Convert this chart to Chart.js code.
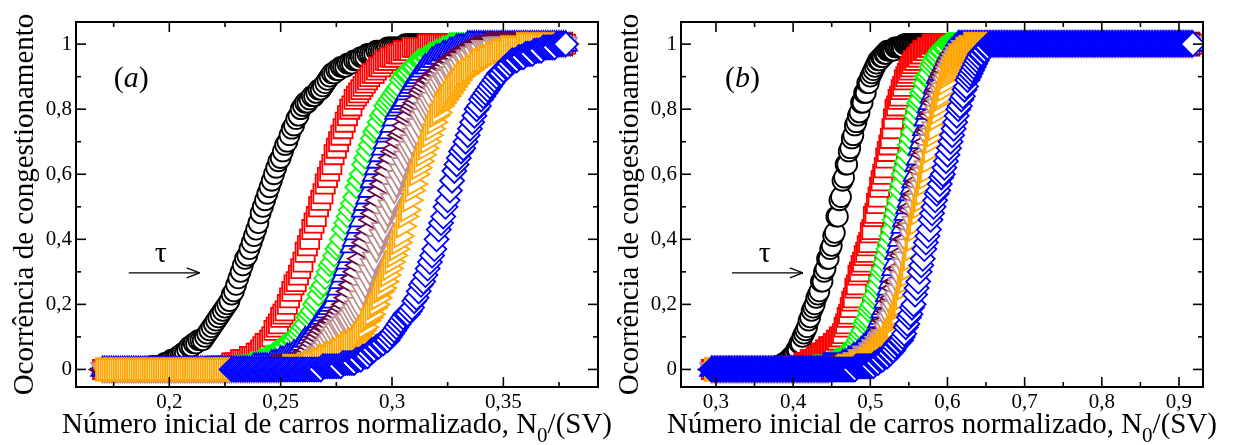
<!DOCTYPE html>
<html>
<head>
<meta charset="utf-8">
<script src="https://cdn.jsdelivr.net/npm/chart.js@4.4.1/dist/chart.umd.min.js"></script>
<style>
  html, body { margin: 0; padding: 0; background: #fff; }
  #wrap { position: relative; width: 1234px; height: 445px; overflow: hidden; }
  #graficoA { position: absolute; left: 0; top: 0; }
  #graficoB { position: absolute; left: 605px; top: 0; }
</style>
</head>
<body>
<div id="wrap">
  <canvas id="graficoA" width="617" height="445"></canvas>
  <canvas id="graficoB" width="629" height="445"></canvas>
</div>
<script>
// =====================
// Dados (a)
// =====================
const xA = [
  0.170,0.171,0.172,0.173,0.174,0.175,0.176,0.177,0.178,0.179,
  0.180,0.181,0.182,0.183,0.184,0.185,0.186,0.187,0.188,0.189,
  0.190,0.191,0.192,0.193,0.194,0.195,0.196,0.197,0.198,0.199,
  0.200,0.201,0.202,0.203,0.204,0.205,0.206,0.207,0.208,0.209,
  0.210,0.211,0.212,0.213,0.214,0.215,0.216,0.217,0.218,0.219,
  0.220,0.221,0.222,0.223,0.224,0.225,0.226,0.227,0.228,0.229,
  0.230,0.231,0.232,0.233,0.234,0.235,0.236,0.237,0.238,0.239,
  0.240,0.241,0.242,0.243,0.244,0.245,0.246,0.247,0.248,0.249,
  0.250,0.251,0.252,0.253,0.254,0.255,0.256,0.257,0.258,0.259,
  0.260,0.261,0.262,0.263,0.264,0.265,0.266,0.267,0.268,0.269,
  0.270,0.271,0.272,0.273,0.274,0.275,0.276,0.277,0.278,0.279,
  0.280,0.281,0.282,0.283,0.284,0.285,0.286,0.287,0.288,0.289,
  0.290,0.291,0.292,0.293,0.294,0.295,0.296,0.297,0.298,0.299,
  0.300,0.301,0.302,0.303,0.304,0.305,0.306,0.307,0.308,0.309,
  0.310,0.311,0.312,0.313,0.314,0.315,0.316,0.317,0.318,0.319,
  0.320,0.321,0.322,0.323,0.324,0.325,0.326,0.327,0.328,0.329,
  0.330,0.331,0.332,0.333,0.334,0.335,0.336,0.337,0.338,0.339,
  0.340,0.341,0.342,0.343,0.344,0.345,0.346,0.347,0.348,0.349,
  0.350,0.351,0.352,0.353,0.354,0.355,0.356,0.357,0.358,0.359,
  0.360,0.361,0.362,0.363,0.364,0.365,0.366,0.367,0.368,0.369,
  0.370,0.371,0.372,0.373,0.374,0.375,0.376,0.377,0.378
];

// círculos pretos
const pretoA = [
  0,0,0,0,0,0,0,0,0,0,
  0,0,0,0,0,0,0,0,0,0,
  0,0,.01,.01,.01,.01,.01,.01,.02,.02,
  .02,.03,.03,.03,.04,.04,.05,.05,.06,.07,
  .07,.08,.08,.09,.09,.09,.10,.11,.12,.13,
  .14,.15,.16,.17,.18,.19,.20,.21,.23,.24,
  .26,.28,.30,.32,.34,.35,.37,.39,.41,.43,
  .45,.48,.50,.52,.54,.56,.58,.60,.62,.64,
  .65,.67,.69,.70,.72,.74,.75,.77,.78,.80,
  .81,.82,.82,.83,.84,.84,.85,.86,.86,.87,
  .88,.89,.90,.91,.91,.92,.92,.93,.93,.93,
  .94,.94,.94,.95,.95,.95,.96,.96,.96,.97,
  .97,.97,.97,.98,.98,.98,.98,.98,.99,.99,
  .99,.99,.99,.99,.99,.99,1,1,1,1,
  1,1,1,1,1,1,1,1,1,1,
  1,1,1,1,1,1,1,1,1,1,
  1,1,1,1,1,1,1,1,1,1,
  1,1,1,1,1,1,1,1,1,1,
  1,1,1,1,1,1,1,1,1,1,
  1,1,1,1,1,1,1,1,1,1,
  1,1,1,1,1,1,1,1,1
];
// quadrados vermelhos
const vermelhoA = [
  0,0,0,0,0,0,0,0,0,0,
  0,0,0,0,0,0,0,0,0,0,
  0,0,0,0,0,0,0,0,0,0,
  0,0,0,0,0,0,0,0,0,0,
  0,0,0,0,0,0,0,0,0,0,
  0,.01,.01,.01,.01,.01,.01,.01,.02,.02,
  .02,.02,.03,.03,.03,.03,.04,.04,.04,.05,
  .05,.06,.07,.08,.08,.09,.10,.12,.13,.14,
  .16,.17,.18,.20,.22,.24,.26,.27,.29,.31,
  .33,.36,.38,.40,.43,.45,.47,.50,.52,.54,
  .57,.59,.61,.63,.66,.68,.70,.72,.74,.76,
  .78,.80,.81,.83,.84,.85,.86,.87,.88,.89,
  .90,.91,.91,.92,.93,.93,.94,.95,.95,.96,
  .96,.96,.97,.97,.97,.98,.98,.98,.98,.99,
  .99,.99,.99,.99,.99,.99,1,1,1,1,
  1,1,1,1,1,1,1,1,1,1,
  1,1,1,1,1,1,1,1,1,1,
  1,1,1,1,1,1,1,1,1,1,
  1,1,1,1,1,1,1,1,1,1,
  1,1,1,1,1,1,1,1,1,1,
  1,1,1,1,1,1,1,1,1
];
// losangos verdes
const verdeA = [
  0,0,0,0,0,0,0,0,0,0,
  0,0,0,0,0,0,0,0,0,0,
  0,0,0,0,0,0,0,0,0,0,
  0,0,0,0,0,0,0,0,0,0,
  0,0,0,0,0,0,0,0,0,0,
  0,0,0,0,0,0,0,0,0,0,
  .01,.01,.01,.01,.01,.01,.01,.02,.02,.02,
  .02,.03,.03,.03,.04,.04,.04,.05,.05,.06,
  .06,.07,.07,.08,.08,.09,.09,.10,.11,.12,
  .13,.14,.16,.17,.18,.20,.21,.23,.25,.26,
  .28,.30,.32,.33,.35,.37,.38,.40,.43,.45,
  .47,.49,.51,.53,.56,.58,.60,.63,.65,.67,
  .69,.71,.73,.74,.76,.78,.79,.81,.82,.83,
  .84,.85,.86,.87,.89,.90,.91,.91,.92,.93,
  .93,.94,.95,.95,.95,.96,.96,.97,.97,.97,
  .98,.98,.98,.99,.99,.99,1,1,1,1,
  1,1,1,1,1,1,1,1,1,1,
  1,1,1,1,1,1,1,1,1,1,
  1,1,1,1,1,1,1,1,1,1,
  1,1,1,1,1,1,1,1,1,1,
  1,1,1,1,1,1,1,1,1
];
// triângulos azuis (para cima)
const azulA = [
  0,0,0,0,0,0,0,0,0,0,
  0,0,0,0,0,0,0,0,0,0,
  0,0,0,0,0,0,0,0,0,0,
  0,0,0,0,0,0,0,0,0,0,
  0,0,0,0,0,0,0,0,0,0,
  0,0,0,0,0,0,0,0,0,0,
  0,0,0,0,0,0,0,0,.01,.01,
  .01,.01,.01,.01,.01,.01,.02,.02,.02,.02,
  .03,.03,.03,.04,.04,.04,.05,.05,.06,.07,
  .08,.09,.09,.10,.11,.12,.13,.14,.15,.16,
  .17,.18,.19,.20,.21,.23,.25,.27,.29,.31,
  .33,.35,.38,.40,.42,.44,.46,.49,.51,.53,
  .55,.58,.60,.62,.64,.66,.68,.70,.72,.73,
  .75,.77,.79,.80,.81,.82,.83,.85,.86,.87,
  .88,.89,.90,.91,.92,.93,.93,.94,.95,.95,
  .96,.96,.96,.97,.97,.97,.98,.98,.98,.99,
  .99,.99,.99,.99,1,1,1,1,1,1,
  1,1,1,1,1,1,1,1,1,1,
  1,1,1,1,1,1,1,1,1,1,
  1,1,1,1,1,1,1,1,1,1,
  1,1,1,1,1,1,1,1,1
];
// triângulos grená (para a esquerda)
const granaA = [
  0,0,0,0,0,0,0,0,0,0,
  0,0,0,0,0,0,0,0,0,0,
  0,0,0,0,0,0,0,0,0,0,
  0,0,0,0,0,0,0,0,0,0,
  0,0,0,0,0,0,0,0,0,0,
  0,0,0,0,0,0,0,0,0,0,
  0,0,0,0,0,0,0,0,0,0,
  0,0,0,0,.01,.01,.01,.01,.01,.01,
  .01,.01,.01,.02,.02,.02,.02,.03,.03,.03,
  .04,.05,.05,.06,.07,.08,.09,.10,.11,.12,
  .13,.13,.14,.15,.15,.16,.17,.18,.19,.20,
  .22,.24,.26,.28,.30,.32,.34,.37,.39,.41,
  .43,.46,.48,.50,.52,.55,.57,.59,.61,.63,
  .65,.67,.68,.70,.72,.73,.75,.77,.78,.80,
  .81,.82,.83,.85,.86,.87,.88,.89,.89,.90,
  .91,.91,.92,.93,.93,.94,.95,.95,.96,.96,
  .97,.97,.98,.98,.98,.99,.99,.99,.99,.99,
  1,1,1,1,1,1,1,1,1,1,
  1,1,1,1,1,1,1,1,1,1,
  1,1,1,1,1,1,1,1,1,1,
  1,1,1,1,1,1,1,1,1
];
// triângulos marrons (para baixo)
const marromA = [
  0,0,0,0,0,0,0,0,0,0,
  0,0,0,0,0,0,0,0,0,0,
  0,0,0,0,0,0,0,0,0,0,
  0,0,0,0,0,0,0,0,0,0,
  0,0,0,0,0,0,0,0,0,0,
  0,0,0,0,0,0,0,0,0,0,
  0,0,0,0,0,0,0,0,0,0,
  0,0,0,0,0,0,0,0,0,0,
  .01,.01,.01,.01,.01,.01,.01,.01,.01,.02,
  .02,.02,.02,.03,.03,.03,.04,.05,.05,.06,
  .07,.08,.09,.10,.11,.12,.13,.13,.14,.15,
  .15,.16,.17,.18,.19,.20,.22,.24,.26,.28,
  .30,.32,.34,.37,.39,.41,.43,.46,.48,.50,
  .52,.55,.57,.59,.61,.63,.65,.67,.68,.70,
  .72,.73,.75,.77,.78,.80,.81,.82,.83,.85,
  .86,.87,.88,.89,.89,.90,.91,.91,.92,.93,
  .93,.94,.95,.95,.96,.96,.97,.97,.98,.98,
  .98,.99,.99,.99,.99,.99,1,1,1,1,
  1,1,1,1,1,1,1,1,1,1,
  1,1,1,1,1,1,1,1,1,1,
  1,1,1,1,1,1,1,1,1
];
// triângulos laranja (para a direita)
const laranjaA = [
  0,0,0,0,0,0,0,0,0,0,
  0,0,0,0,0,0,0,0,0,0,
  0,0,0,0,0,0,0,0,0,0,
  0,0,0,0,0,0,0,0,0,0,
  0,0,0,0,0,0,0,0,0,0,
  0,0,0,0,0,0,0,0,0,0,
  0,0,0,0,0,0,0,0,0,0,
  0,0,0,0,0,0,0,0,0,0,
  0,0,0,0,.01,.01,.01,.01,.01,.01,
  .01,.01,.01,.02,.02,.02,.02,.03,.03,.03,
  .04,.04,.04,.05,.05,.05,.06,.06,.07,.07,
  .08,.08,.08,.09,.09,.10,.11,.12,.13,.15,
  .16,.17,.19,.20,.22,.24,.25,.27,.29,.31,
  .33,.35,.37,.39,.41,.44,.47,.49,.52,.55,
  .57,.60,.62,.64,.66,.68,.70,.72,.74,.76,
  .78,.79,.81,.82,.83,.84,.85,.86,.87,.88,
  .89,.90,.91,.91,.92,.92,.93,.93,.94,.95,
  .95,.95,.96,.96,.96,.97,.97,.97,.98,.98,
  .98,.98,.99,.99,.99,.99,.99,.99,.99,1,
  1,1,1,1,1,1,1,1,1,1,
  1,1,1,1,1,1,1,1,1
];
// losangos azuis (começam em 0,228)
const azulLosA = [
  null,null,null,null,null,null,null,null,null,null,
  null,null,null,null,null,null,null,null,null,null,
  null,null,null,null,null,null,null,null,null,null,
  null,null,null,null,null,null,null,null,null,null,
  null,null,null,null,null,null,null,null,null,null,
  null,null,null,null,null,null,null,null,0,0,
  0,0,0,0,0,0,0,0,0,0,
  0,0,0,0,0,0,0,0,0,0,
  0,0,0,0,0,0,0,0,0,0,
  0,0,0,0,0,0,0,0,0,.01,
  .01,.01,.01,.01,.01,.01,.01,.01,.02,.02,
  .02,.02,.02,.02,.03,.03,.03,.04,.04,.04,
  .05,.06,.06,.07,.07,.08,.08,.09,.09,.10,
  .11,.12,.13,.14,.15,.16,.17,.17,.18,.19,
  .21,.22,.24,.26,.27,.29,.31,.33,.35,.37,
  .40,.43,.45,.47,.50,.52,.55,.58,.61,.63,
  .65,.67,.68,.70,.72,.74,.76,.78,.80,.81,
  .83,.84,.85,.86,.87,.88,.89,.90,.91,.91,
  .92,.93,.93,.94,.95,.95,.95,.96,.96,.96,
  .97,.97,.97,.97,.98,.98,.98,.98,.99,.99,
  .99,.99,.99,.99,1,1,1,1,1
];

// =====================
// Dados (b)
// =====================
const xB = [
  0.294,0.296,0.298,0.300,0.302,0.304,0.306,0.308,0.310,0.312,
  0.314,0.316,0.318,0.320,0.322,0.324,0.326,0.328,0.330,0.332,
  0.334,0.336,0.338,0.340,0.342,0.344,0.346,0.348,0.350,0.352,
  0.354,0.356,0.358,0.360,0.362,0.364,0.366,0.368,0.370,0.372,
  0.374,0.376,0.378,0.380,0.382,0.384,0.386,0.388,0.390,0.392,
  0.394,0.396,0.398,0.400,0.402,0.404,0.406,0.408,0.410,0.412,
  0.414,0.416,0.418,0.420,0.422,0.424,0.426,0.428,0.430,0.432,
  0.434,0.436,0.438,0.440,0.442,0.444,0.446,0.448,0.450,0.452,
  0.454,0.456,0.458,0.460,0.462,0.464,0.466,0.468,0.470,0.472,
  0.474,0.476,0.478,0.480,0.482,0.484,0.486,0.488,0.490,0.492,
  0.494,0.496,0.498,0.500,0.502,0.504,0.506,0.508,0.510,0.512,
  0.514,0.516,0.518,0.520,0.522,0.524,0.526,0.528,0.530,0.532,
  0.534,0.536,0.538,0.540,0.542,0.544,0.546,0.548,0.550,0.552,
  0.554,0.556,0.558,0.560,0.562,0.564,0.566,0.568,0.570,0.572,
  0.574,0.576,0.578,0.580,0.582,0.584,0.586,0.588,0.590,0.592,
  0.594,0.596,0.598,0.600,0.602,0.604,0.606,0.608,0.610,0.612,
  0.614,0.616,0.618,0.620,0.622,0.624,0.626,0.628,0.630,0.632,
  0.634,0.636,0.638,0.640,0.642,0.644,0.646,0.648,0.650,0.652,
  0.654,0.656,0.658,0.660,0.662,0.664,0.666,0.668,0.670,0.672,
  0.674,0.676,0.678,0.680,0.682,0.684,0.686,0.688,0.690,0.692,
  0.694,0.696,0.698,0.700,0.702,0.704,0.706,0.708,0.710,0.712,
  0.714,0.716,0.718,0.720,0.722,0.724,0.726,0.728,0.730,0.732,
  0.734,0.736,0.738,0.740,0.742,0.744,0.746,0.748,0.750,0.752,
  0.754,0.756,0.758,0.760,0.762,0.764,0.766,0.768,0.770,0.772,
  0.774,0.776,0.778,0.780,0.782,0.784,0.786,0.788,0.790,0.792,
  0.794,0.796,0.798,0.800,0.802,0.804,0.806,0.808,0.810,0.812,
  0.814,0.816,0.818,0.820,0.822,0.824,0.826,0.828,0.830,0.832,
  0.834,0.836,0.838,0.840,0.842,0.844,0.846,0.848,0.850,0.852,
  0.854,0.856,0.858,0.860,0.862,0.864,0.866,0.868,0.870,0.872,
  0.874,0.876,0.878,0.880,0.882,0.884,0.886,0.888,0.890,0.892,
  0.894,0.896,0.898,0.900,0.902,0.904,0.906,0.908,0.910,0.912,
  0.914,0.916,0.918
];

const pretoB = [
  0,0,0,0,0,0,0,0,0,0,
  0,0,0,0,0,0,0,0,0,0,
  0,0,0,0,0,0,0,0,0,0,
  0,0,0,0,0,0,0,0,0,0,
  0,0,.01,.01,.01,.01,.01,.02,.02,.02,
  .03,.03,.04,.04,.05,.06,.06,.08,.08,.10,
  .11,.12,.13,.15,.16,.18,.19,.20,.22,.23,
  .24,.27,.27,.30,.31,.34,.34,.37,.38,.41,
  .42,.47,.47,.52,.53,.58,.59,.63,.63,.67,
  .68,.71,.72,.75,.76,.78,.79,.82,.82,.85,
  .85,.88,.88,.90,.91,.92,.93,.94,.95,.95,
  .96,.96,.97,.97,.98,.98,.98,.98,.98,.99,
  .99,.99,.99,.99,.99,1,1,1,1,1,
  1,1,1,1,1,1,1,1,1,1,
  1,1,1,1,1,1,1,1,1,1,
  1,1,1,1,1,1,1,1,1,1,
  1,1,1,1,1,1,1,1,1,1,
  1,1,1,1,1,1,1,1,1,1,
  1,1,1,1,1,1,1,1,1,1,
  1,1,1,1,1,1,1,1,1,1,
  1,1,1,1,1,1,1,1,1,1,
  1,1,1,1,1,1,1,1,1,1,
  1,1,1,1,1,1,1,1,1,1,
  1,1,1,1,1,1,1,1,1,1,
  1,1,1,1,1,1,1,1,1,1,
  1,1,1,1,1,1,1,1,1,1,
  1,1,1,1,1,1,1,1,1,1,
  1,1,1,1,1,1,1,1,1,1,
  1,1,1,1,1,1,1,1,1,1,
  1,1,1,1,1,1,1,1,1,1,
  1,1,1,1,1,1,1,1,1,1,
  1,1,1
];
const vermelhoB = [
  0,0,0,0,0,0,0,0,0,0,
  0,0,0,0,0,0,0,0,0,0,
  0,0,0,0,0,0,0,0,0,0,
  0,0,0,0,0,0,0,0,0,0,
  0,0,0,0,0,0,0,0,0,0,
  0,0,.01,.01,.01,.01,.01,.01,.01,.01,
  .02,.02,.02,.02,.03,.03,.03,.03,.04,.04,
  .04,.05,.05,.05,.06,.06,.07,.07,.07,.08,
  .08,.09,.09,.10,.10,.11,.13,.14,.16,.17,
  .19,.21,.22,.25,.26,.29,.30,.32,.33,.35,
  .36,.38,.39,.42,.43,.47,.48,.51,.53,.56,
  .58,.60,.62,.65,.67,.69,.71,.74,.77,.80,
  .81,.83,.84,.86,.87,.89,.90,.91,.92,.93,
  .94,.95,.95,.96,.96,.97,.97,.98,.98,.98,
  .99,.99,.99,1,1,1,1,1,1,1,
  1,1,1,1,1,1,1,1,1,1,
  1,1,1,1,1,1,1,1,1,1,
  1,1,1,1,1,1,1,1,1,1,
  1,1,1,1,1,1,1,1,1,1,
  1,1,1,1,1,1,1,1,1,1,
  1,1,1,1,1,1,1,1,1,1,
  1,1,1,1,1,1,1,1,1,1,
  1,1,1,1,1,1,1,1,1,1,
  1,1,1,1,1,1,1,1,1,1,
  1,1,1,1,1,1,1,1,1,1,
  1,1,1,1,1,1,1,1,1,1,
  1,1,1,1,1,1,1,1,1,1,
  1,1,1,1,1,1,1,1,1,1,
  1,1,1,1,1,1,1,1,1,1,
  1,1,1,1,1,1,1,1,1,1,
  1,1,1,1,1,1,1,1,1,1,
  1,1,1
];
const verdeB = [
  0,0,0,0,0,0,0,0,0,0,
  0,0,0,0,0,0,0,0,0,0,
  0,0,0,0,0,0,0,0,0,0,
  0,0,0,0,0,0,0,0,0,0,
  0,0,0,0,0,0,0,0,0,0,
  0,0,0,0,0,0,0,0,0,0,
  0,0,0,0,0,0,.01,.01,.01,.01,
  .01,.01,.01,.01,.01,.01,.02,.02,.02,.02,
  .02,.03,.03,.03,.03,.04,.04,.05,.05,.05,
  .06,.06,.07,.07,.08,.09,.10,.11,.12,.14,
  .15,.16,.18,.19,.20,.22,.23,.25,.26,.28,
  .30,.31,.33,.35,.37,.39,.41,.43,.46,.48,
  .50,.52,.55,.57,.60,.62,.64,.66,.69,.71,
  .73,.76,.78,.80,.82,.83,.85,.86,.88,.90,
  .90,.91,.93,.94,.95,.96,.96,.97,.98,.98,
  .99,.99,.99,1,1,1,1,1,1,1,
  1,1,1,1,1,1,1,1,1,1,
  1,1,1,1,1,1,1,1,1,1,
  1,1,1,1,1,1,1,1,1,1,
  1,1,1,1,1,1,1,1,1,1,
  1,1,1,1,1,1,1,1,1,1,
  1,1,1,1,1,1,1,1,1,1,
  1,1,1,1,1,1,1,1,1,1,
  1,1,1,1,1,1,1,1,1,1,
  1,1,1,1,1,1,1,1,1,1,
  1,1,1,1,1,1,1,1,1,1,
  1,1,1,1,1,1,1,1,1,1,
  1,1,1,1,1,1,1,1,1,1,
  1,1,1,1,1,1,1,1,1,1,
  1,1,1,1,1,1,1,1,1,1,
  1,1,1,1,1,1,1,1,1,1,
  1,1,1
];
const azulB = [
  0,0,0,0,0,0,0,0,0,0,
  0,0,0,0,0,0,0,0,0,0,
  0,0,0,0,0,0,0,0,0,0,
  0,0,0,0,0,0,0,0,0,0,
  0,0,0,0,0,0,0,0,0,0,
  0,0,0,0,0,0,0,0,0,0,
  0,0,0,0,0,0,0,0,0,0,
  0,0,0,.01,.01,.01,.01,.01,.01,.01,
  .01,.01,.01,.01,.01,.02,.02,.02,.02,.03,
  .03,.03,.04,.04,.04,.05,.05,.06,.06,.07,
  .07,.08,.08,.09,.09,.10,.10,.12,.13,.15,
  .16,.18,.19,.21,.23,.25,.27,.29,.31,.33,
  .36,.38,.40,.42,.44,.46,.48,.50,.52,.54,
  .56,.58,.60,.63,.65,.68,.70,.72,.74,.77,
  .79,.81,.82,.84,.85,.87,.88,.90,.91,.92,
  .93,.94,.95,.96,.97,.97,.98,.98,.99,.99,
  1,1,1,1,1,1,1,1,1,1,
  1,1,1,1,1,1,1,1,1,1,
  1,1,1,1,1,1,1,1,1,1,
  1,1,1,1,1,1,1,1,1,1,
  1,1,1,1,1,1,1,1,1,1,
  1,1,1,1,1,1,1,1,1,1,
  1,1,1,1,1,1,1,1,1,1,
  1,1,1,1,1,1,1,1,1,1,
  1,1,1,1,1,1,1,1,1,1,
  1,1,1,1,1,1,1,1,1,1,
  1,1,1,1,1,1,1,1,1,1,
  1,1,1,1,1,1,1,1,1,1,
  1,1,1,1,1,1,1,1,1,1,
  1,1,1,1,1,1,1,1,1,1,
  1,1,1,1,1,1,1,1,1,1,
  1,1,1
];
const granaB = [
  0,0,0,0,0,0,0,0,0,0,
  0,0,0,0,0,0,0,0,0,0,
  0,0,0,0,0,0,0,0,0,0,
  0,0,0,0,0,0,0,0,0,0,
  0,0,0,0,0,0,0,0,0,0,
  0,0,0,0,0,0,0,0,0,0,
  0,0,0,0,0,0,0,0,0,0,
  0,0,0,0,0,.01,.01,.01,.01,.01,
  .01,.01,.01,.01,.01,.01,.02,.02,.02,.02,
  .02,.02,.03,.03,.03,.04,.04,.05,.04,.05,
  .05,.05,.06,.06,.07,.07,.08,.08,.09,.09,
  .10,.12,.12,.15,.15,.18,.18,.21,.22,.25,
  .27,.27,.31,.31,.35,.36,.40,.40,.44,.45,
  .49,.50,.53,.54,.57,.58,.61,.62,.66,.67,
  .70,.73,.74,.78,.79,.82,.83,.85,.86,.88,
  .90,.91,.92,.93,.94,.95,.96,.97,.97,.98,
  .99,.99,.99,1,1,1,1,1,1,1,
  1,1,1,1,1,1,1,1,1,1,
  1,1,1,1,1,1,1,1,1,1,
  1,1,1,1,1,1,1,1,1,1,
  1,1,1,1,1,1,1,1,1,1,
  1,1,1,1,1,1,1,1,1,1,
  1,1,1,1,1,1,1,1,1,1,
  1,1,1,1,1,1,1,1,1,1,
  1,1,1,1,1,1,1,1,1,1,
  1,1,1,1,1,1,1,1,1,1,
  1,1,1,1,1,1,1,1,1,1,
  1,1,1,1,1,1,1,1,1,1,
  1,1,1,1,1,1,1,1,1,1,
  1,1,1,1,1,1,1,1,1,1,
  1,1,1,1,1,1,1,1,1,1,
  1,1,1
];
const marromB = [
  0,0,0,0,0,0,0,0,0,0,
  0,0,0,0,0,0,0,0,0,0,
  0,0,0,0,0,0,0,0,0,0,
  0,0,0,0,0,0,0,0,0,0,
  0,0,0,0,0,0,0,0,0,0,
  0,0,0,0,0,0,0,0,0,0,
  0,0,0,0,0,0,0,0,0,0,
  0,0,0,0,0,0,0,.01,.01,.01,
  .01,.01,.01,.01,.01,.01,.01,.01,.02,.02,
  .02,.02,.02,.03,.03,.03,.04,.04,.04,.05,
  .05,.05,.05,.06,.06,.07,.07,.08,.08,.09,
  .09,.10,.10,.12,.13,.15,.16,.18,.19,.21,
  .22,.24,.26,.28,.30,.32,.34,.37,.38,.41,
  .43,.45,.48,.50,.52,.54,.56,.58,.60,.62,
  .65,.67,.70,.72,.74,.77,.79,.81,.83,.85,
  .86,.88,.89,.91,.92,.93,.94,.95,.96,.97,
  .97,.98,.98,.99,.99,.99,1,1,1,1,
  1,1,1,1,1,1,1,1,1,1,
  1,1,1,1,1,1,1,1,1,1,
  1,1,1,1,1,1,1,1,1,1,
  1,1,1,1,1,1,1,1,1,1,
  1,1,1,1,1,1,1,1,1,1,
  1,1,1,1,1,1,1,1,1,1,
  1,1,1,1,1,1,1,1,1,1,
  1,1,1,1,1,1,1,1,1,1,
  1,1,1,1,1,1,1,1,1,1,
  1,1,1,1,1,1,1,1,1,1,
  1,1,1,1,1,1,1,1,1,1,
  1,1,1,1,1,1,1,1,1,1,
  1,1,1,1,1,1,1,1,1,1,
  1,1,1,1,1,1,1,1,1,1,
  1,1,1
];
const laranjaB = [
  0,0,0,0,0,0,0,0,0,0,
  0,0,0,0,0,0,0,0,0,0,
  0,0,0,0,0,0,0,0,0,0,
  0,0,0,0,0,0,0,0,0,0,
  0,0,0,0,0,0,0,0,0,0,
  0,0,0,0,0,0,0,0,0,0,
  0,0,0,0,0,0,0,0,0,0,
  0,0,0,0,0,0,0,0,0,0,
  0,0,0,0,0,0,.01,.01,.01,.01,
  .01,.01,.01,.01,.02,.02,.02,.02,.02,.02,
  .03,.03,.03,.04,.04,.05,.05,.06,.06,.07,
  .07,.08,.08,.09,.09,.10,.11,.12,.13,.15,
  .16,.17,.19,.20,.22,.25,.27,.29,.31,.34,
  .37,.40,.43,.45,.48,.50,.52,.54,.57,.59,
  .61,.64,.67,.70,.72,.74,.77,.79,.81,.83,
  .84,.86,.88,.90,.91,.92,.93,.94,.95,.96,
  .96,.97,.97,.98,.98,.99,.99,.99,1,1,
  1,1,1,1,1,1,1,1,1,1,
  1,1,1,1,1,1,1,1,1,1,
  1,1,1,1,1,1,1,1,1,1,
  1,1,1,1,1,1,1,1,1,1,
  1,1,1,1,1,1,1,1,1,1,
  1,1,1,1,1,1,1,1,1,1,
  1,1,1,1,1,1,1,1,1,1,
  1,1,1,1,1,1,1,1,1,1,
  1,1,1,1,1,1,1,1,1,1,
  1,1,1,1,1,1,1,1,1,1,
  1,1,1,1,1,1,1,1,1,1,
  1,1,1,1,1,1,1,1,1,1,
  1,1,1,1,1,1,1,1,1,1,
  1,1,1,1,1,1,1,1,1,1,
  1,1,1
];
const azulLosB = [
  0,0,0,0,0,0,0,0,0,0,
  0,0,0,0,0,0,0,0,0,0,
  0,0,0,0,0,0,0,0,0,0,
  0,0,0,0,0,0,0,0,0,0,
  0,0,0,0,0,0,0,0,0,0,
  0,0,0,0,0,0,0,0,0,0,
  0,0,0,0,0,0,0,0,0,0,
  0,0,0,0,0,0,0,0,0,0,
  0,0,0,0,0,0,0,0,0,0,
  0,0,0,0,.01,.01,.01,.01,.01,.01,
  .01,.01,.01,.01,.01,.01,.02,.02,.02,.03,
  .03,.03,.04,.04,.04,.05,.05,.06,.06,.07,
  .08,.08,.09,.09,.10,.11,.13,.14,.16,.17,
  .19,.20,.23,.25,.27,.30,.32,.34,.37,.39,
  .41,.43,.46,.48,.50,.52,.54,.55,.57,.59,
  .60,.62,.64,.66,.68,.70,.72,.74,.76,.78,
  .80,.81,.83,.84,.86,.87,.89,.90,.91,.92,
  .93,.94,.95,.96,.97,.97,.98,.98,.99,.99,
  1,1,1,1,1,1,1,1,1,1,
  1,1,1,1,1,1,1,1,1,1,
  1,1,1,1,1,1,1,1,1,1,
  1,1,1,1,1,1,1,1,1,1,
  1,1,1,1,1,1,1,1,1,1,
  1,1,1,1,1,1,1,1,1,1,
  1,1,1,1,1,1,1,1,1,1,
  1,1,1,1,1,1,1,1,1,1,
  1,1,1,1,1,1,1,1,1,1,
  1,1,1,1,1,1,1,1,1,1,
  1,1,1,1,1,1,1,1,1,1,
  1,1,1,1,1,1,1,1,1,1,
  1,1,1,1,1,1,1,1,1,1,
  1,1,1
];

// =====================
// Marcas dos eixos
// =====================
const ticksXA = [0.2, 0.25, 0.3, 0.35];
const minorXA = [0.175, 0.225, 0.275, 0.325, 0.375];
const ticksXB = [0.3, 0.4, 0.5, 0.6, 0.7, 0.8, 0.9];
const minorXB = [0.35, 0.45, 0.55, 0.65, 0.75, 0.85];
const ticksY = [0, 0.2, 0.4, 0.6, 0.8, 1];
const minorY = [0.1, 0.3, 0.5, 0.7, 0.9];

const tituloY = "Ocorrência de congestionamento";
const tituloX = ["Número inicial de carros normalizado, N", "0", "/(SV)"];

// =====================
// Estilo de cada série (ordem de desenho)
// =====================
const estilos = [
  { cor: "#000000", simbolo: "circle", raio: 10, rot: 0 },
  { cor: "#ff0000", simbolo: "rect", raio: 13.5, rot: 0 },
  { cor: "#00ff00", simbolo: "rectRot", raio: 11, rot: 0 },
  { cor: "#0000ff", simbolo: "triangle", raio: 13, rot: 0 },
  { cor: "#670748", simbolo: "triangle", raio: 13, rot: -90 },
  { cor: "#bc8f8f", simbolo: "triangle", raio: 13, rot: 180 },
  { cor: "#ffa500", simbolo: "triangle", raio: 13, rot: 90 },
  { cor: "#0000ff", simbolo: "rectRot", raio: 12, rot: 0 },
];

const FONTE = '"Liberation Serif", "Times New Roman", serif';

function montarDatasets(xs, series) {
  return series.map((ys, k) => ({
    data: xs.map((x, i) => ({ x, y: ys[i] })).filter((p) => p.y !== null && p.y !== undefined),
    showLine: false,
    pointStyle: estilos[k].simbolo,
    pointRadius: estilos[k].raio,
    pointHoverRadius: estilos[k].raio,
    pointRotation: estilos[k].rot,
    pointBorderColor: estilos[k].cor,
    pointBackgroundColor: "#ffffff",
    pointBorderWidth: 1.8,
    order: series.length - k,
  }));
}

// =====================
// Moldura, marcas, títulos e anotações
// =====================
function criarDecoracao(painel) {
  return {
    id: "decoracao",
    afterDraw(chart) {
      const { ctx, chartArea: a } = chart;
      const sx = chart.scales.x;
      const sy = chart.scales.y;
      ctx.save();
      ctx.strokeStyle = "#000";
      ctx.fillStyle = "#000";
      ctx.lineWidth = 2;
      ctx.strokeRect(a.left, a.top, a.right - a.left, a.bottom - a.top);

      const risco = (x1, y1, x2, y2) => {
        ctx.beginPath();
        ctx.moveTo(x1, y1);
        ctx.lineTo(x2, y2);
        ctx.stroke();
      };
      ctx.lineWidth = 1.6;
      const marcasX = (vals, len) => vals.forEach((v) => {
        const p = sx.getPixelForValue(v);
        risco(p, a.bottom, p, a.bottom - len);
        risco(p, a.top, p, a.top + len);
      });
      const marcasY = (vals, len) => vals.forEach((v) => {
        const p = sy.getPixelForValue(v);
        risco(a.left, p, a.left + len, p);
        risco(a.right, p, a.right - len, p);
      });
      marcasX(painel.majorX, 10);
      marcasX(painel.minorX, 5);
      marcasY(ticksY, 10);
      marcasY(minorY, 5);

      // título do eixo y
      ctx.save();
      ctx.translate(33, (a.top + a.bottom) / 2);
      ctx.rotate(-Math.PI / 2);
      ctx.font = "29px " + FONTE;
      ctx.textAlign = "center";
      ctx.textBaseline = "alphabetic";
      ctx.fillText(tituloY, 0, 0);
      ctx.restore();

      // título do eixo x com subscrito
      ctx.textAlign = "left";
      ctx.textBaseline = "alphabetic";
      ctx.font = "29px " + FONTE;
      const w1 = ctx.measureText(tituloX[0]).width;
      const w3 = ctx.measureText(tituloX[2]).width;
      ctx.font = "21px " + FONTE;
      const w2 = ctx.measureText(tituloX[1]).width;
      const x0 = (a.left + a.right) / 2 - (w1 + w2 + w3) / 2;
      const base = 433;
      ctx.font = "29px " + FONTE;
      ctx.fillText(tituloX[0], x0, base);
      ctx.font = "21px " + FONTE;
      ctx.fillText(tituloX[1], x0 + w1, base + 9);
      ctx.font = "29px " + FONTE;
      ctx.fillText(tituloX[2], x0 + w1 + w2, base);

      // rótulo do painel (a) / (b)
      let px = sx.getPixelForValue(painel.rotulo.x);
      const py = sy.getPixelForValue(painel.rotulo.y);
      ctx.font = "30px " + FONTE;
      ctx.fillText("(", px, py);
      px += ctx.measureText("(").width;
      ctx.font = "italic 30px " + FONTE;
      ctx.fillText(painel.rotulo.texto, px, py);
      px += ctx.measureText(painel.rotulo.texto).width;
      ctx.font = "30px " + FONTE;
      ctx.fillText(")", px, py);

      // seta com tau
      const s = painel.seta;
      const x1 = sx.getPixelForValue(s.x1);
      const x2 = sx.getPixelForValue(s.x2);
      const ys = sy.getPixelForValue(s.y);
      ctx.lineWidth = 1.3;
      risco(x1, ys, x2, ys);
      risco(x2, ys, x2 - 13, ys - 5);
      risco(x2, ys, x2 - 13, ys + 5);
      ctx.font = "30px " + FONTE;
      ctx.textAlign = "center";
      ctx.fillText("τ", sx.getPixelForValue(s.tx), sy.getPixelForValue(s.ty));
      ctx.restore();
    },
  };
}

function criarGrafico(id, xs, series, xMin, xMax, painel, padDir) {
  const ctx = document.getElementById(id).getContext("2d");
  const fonteTicks = { family: FONTE, size: 21 };
  const rotulo = (v) => String(v).replace(".", ",");
  return new Chart(ctx, {
    type: "scatter",
    data: { datasets: montarDatasets(xs, series) },
    plugins: [criarDecoracao(painel)],
    options: {
      responsive: false,
      animation: false,
      events: [],
      layout: { padding: { left: 0, top: 22, right: padDir, bottom: 0 } },
      plugins: {
        legend: { display: false },
        tooltip: { enabled: false },
      },
      scales: {
        x: {
          type: "linear",
          min: xMin,
          max: xMax,
          grid: { display: false, drawTicks: false },
          border: { display: false },
          afterBuildTicks: (s) => { s.ticks = painel.majorX.map((v) => ({ value: v })); },
          afterFit: (s) => { s.height = 58; },
          ticks: { autoSkip: false, maxRotation: 0, padding: 3, color: "#000", font: fonteTicks, callback: rotulo },
        },
        y: {
          type: "linear",
          min: -0.054,
          max: 1.068,
          grid: { display: false, drawTicks: false },
          border: { display: false },
          afterBuildTicks: (s) => { s.ticks = ticksY.map((v) => ({ value: v })); },
          afterFit: (s) => { s.width = 76; },
          ticks: { autoSkip: false, padding: 4, color: "#000", font: fonteTicks, callback: rotulo },
        },
      },
    },
  });
}

criarGrafico(
  "graficoA", xA,
  [pretoA, vermelhoA, verdeA, azulA, granaA, marromA, laranjaA, azulLosA],
  0.1581, 0.3925,
  {
    majorX: ticksXA, minorX: minorXA,
    rotulo: { texto: "a", x: 0.1751, y: 0.868 },
    seta: { x1: 0.1818, x2: 0.2136, y: 0.297, tx: 0.1962, ty: 0.331 },
  },
  19
);

criarGrafico(
  "graficoB", xB,
  [pretoB, vermelhoB, verdeB, azulB, granaB, marromB, laranjaB, azulLosB],
  0.2547, 0.9311,
  {
    majorX: ticksXB, minorX: minorXB,
    rotulo: { texto: "b", x: 0.3117, y: 0.868 },
    seta: { x1: 0.3207, x2: 0.4126, y: 0.297, tx: 0.3634, ty: 0.331 },
  },
  31
);
</script>
</body>
</html>
